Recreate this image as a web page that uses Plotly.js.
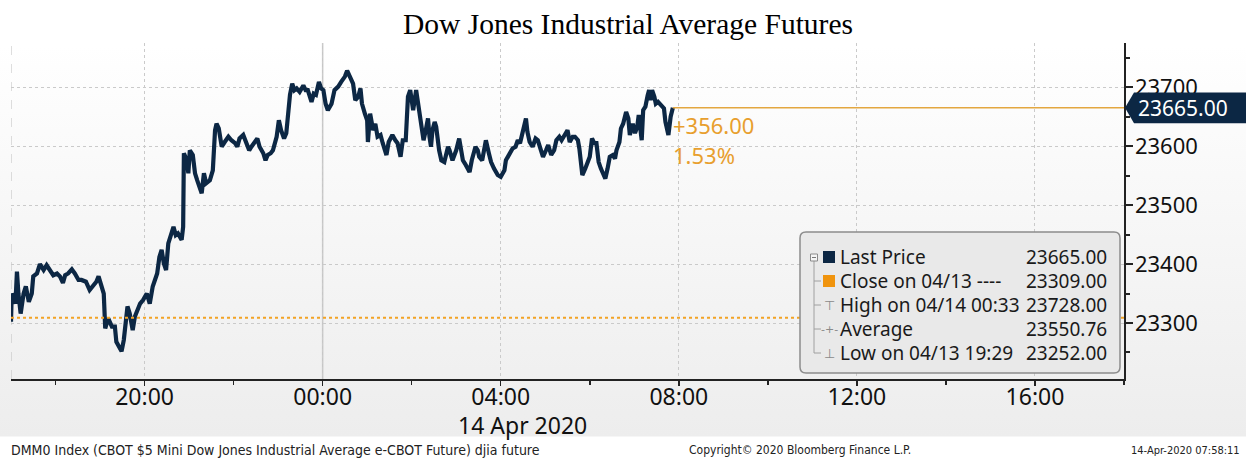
<!DOCTYPE html>
<html>
<head>
<meta charset="utf-8">
<script src="https://cdn.plot.ly/plotly-3.0.1.min.js"></script>
<style>
  html, body { margin:0; padding:0; }
  #chart { width:1246px; height:462px;
    background: linear-gradient(to bottom, #ffffff 0px, #ffffff 45px, #ededed 436px, #ffffff 437px, #ffffff 462px); }
</style>
</head>
<body>
<div id="chart"></div>
<script>
// ---- data ----
const times = [
 "2020-04-13 17:00","2020-04-13 17:01","2020-04-13 17:06","2020-04-13 17:08","2020-04-13 17:10","2020-04-13 17:13","2020-04-13 17:17","2020-04-13 17:20","2020-04-13 17:24","2020-04-13 17:28",
 "2020-04-13 17:30","2020-04-13 17:35","2020-04-13 17:39","2020-04-13 17:44","2020-04-13 17:48","2020-04-13 17:53","2020-04-13 17:57","2020-04-13 18:02","2020-04-13 18:06","2020-04-13 18:10",
 "2020-04-13 18:13","2020-04-13 18:17","2020-04-13 18:22","2020-04-13 18:26","2020-04-13 18:31","2020-04-13 18:35","2020-04-13 18:41","2020-04-13 18:46","2020-04-13 18:50","2020-04-13 18:55",
 "2020-04-13 18:58","2020-04-13 19:02","2020-04-13 19:05","2020-04-13 19:07","2020-04-13 19:11","2020-04-13 19:16","2020-04-13 19:20","2020-04-13 19:22","2020-04-13 19:29","2020-04-13 19:32",
 "2020-04-13 19:34","2020-04-13 19:37","2020-04-13 19:40","2020-04-13 19:44","2020-04-13 19:47","2020-04-13 19:50","2020-04-13 19:54","2020-04-13 19:58","2020-04-13 20:03","2020-04-13 20:07",
 "2020-04-13 20:11","2020-04-13 20:14","2020-04-13 20:17","2020-04-13 20:20","2020-04-13 20:23","2020-04-13 20:26","2020-04-13 20:29","2020-04-13 20:32","2020-04-13 20:36","2020-04-13 20:39",
 "2020-04-13 20:42","2020-04-13 20:45","2020-04-13 20:50","2020-04-13 20:52","2020-04-13 20:53","2020-04-13 20:57","2020-04-13 20:59","2020-04-13 21:01","2020-04-13 21:05","2020-04-13 21:08",
 "2020-04-13 21:11","2020-04-13 21:14","2020-04-13 21:17","2020-04-13 21:20","2020-04-13 21:23","2020-04-13 21:28","2020-04-13 21:32","2020-04-13 21:35","2020-04-13 21:37","2020-04-13 21:40",
 "2020-04-13 21:44","2020-04-13 21:48","2020-04-13 21:53","2020-04-13 21:57","2020-04-13 22:02","2020-04-13 22:05","2020-04-13 22:08","2020-04-13 22:13","2020-04-13 22:17","2020-04-13 22:21",
 "2020-04-13 22:24","2020-04-13 22:29","2020-04-13 22:32","2020-04-13 22:35","2020-04-13 22:40","2020-04-13 22:43","2020-04-13 22:46","2020-04-13 22:50","2020-04-13 22:53","2020-04-13 22:58",
 "2020-04-13 23:01","2020-04-13 23:04","2020-04-13 23:08","2020-04-13 23:11","2020-04-13 23:13","2020-04-13 23:16","2020-04-13 23:19","2020-04-13 23:22","2020-04-13 23:25","2020-04-13 23:29",
 "2020-04-13 23:34","2020-04-13 23:37","2020-04-13 23:40","2020-04-13 23:45","2020-04-13 23:48","2020-04-13 23:51","2020-04-13 23:55","2020-04-13 23:58",
 "2020-04-14 00:01","2020-04-14 00:04","2020-04-14 00:07","2020-04-14 00:12","2020-04-14 00:16","2020-04-14 00:21","2020-04-14 00:25","2020-04-14 00:30","2020-04-14 00:33","2020-04-14 00:37",
 "2020-04-14 00:41","2020-04-14 00:44","2020-04-14 00:48","2020-04-14 00:51","2020-04-14 00:53","2020-04-14 00:57","2020-04-14 01:00","2020-04-14 01:01","2020-04-14 01:04","2020-04-14 01:08",
 "2020-04-14 01:11","2020-04-14 01:14","2020-04-14 01:18","2020-04-14 01:21","2020-04-14 01:26","2020-04-14 01:29","2020-04-14 01:34","2020-04-14 01:38","2020-04-14 01:41","2020-04-14 01:45",
 "2020-04-14 01:48","2020-04-14 01:52","2020-04-14 01:55","2020-04-14 01:58","2020-04-14 02:02","2020-04-14 02:06","2020-04-14 02:10","2020-04-14 02:13","2020-04-14 02:16","2020-04-14 02:19",
 "2020-04-14 02:22","2020-04-14 02:24","2020-04-14 02:26","2020-04-14 02:28","2020-04-14 02:31","2020-04-14 02:33","2020-04-14 02:35","2020-04-14 02:37","2020-04-14 02:40","2020-04-14 02:44",
 "2020-04-14 02:49","2020-04-14 02:51","2020-04-14 02:55","2020-04-14 03:00","2020-04-14 03:04","2020-04-14 03:07","2020-04-14 03:09","2020-04-14 03:12","2020-04-14 03:18","2020-04-14 03:21",
 "2020-04-14 03:26","2020-04-14 03:29","2020-04-14 03:31","2020-04-14 03:35","2020-04-14 03:40","2020-04-14 03:44","2020-04-14 03:47","2020-04-14 03:51","2020-04-14 03:56","2020-04-14 04:00",
 "2020-04-14 04:05","2020-04-14 04:07","2020-04-14 04:12","2020-04-14 04:16","2020-04-14 04:20","2020-04-14 04:23","2020-04-14 04:26","2020-04-14 04:29","2020-04-14 04:32","2020-04-14 04:34",
 "2020-04-14 04:36","2020-04-14 04:39","2020-04-14 04:43","2020-04-14 04:47","2020-04-14 04:50","2020-04-14 04:54","2020-04-14 04:57","2020-04-14 05:01","2020-04-14 05:04","2020-04-14 05:08",
 "2020-04-14 05:12","2020-04-14 05:15","2020-04-14 05:19","2020-04-14 05:22","2020-04-14 05:26","2020-04-14 05:30","2020-04-14 05:33","2020-04-14 05:37","2020-04-14 05:40","2020-04-14 05:44",
 "2020-04-14 05:46","2020-04-14 05:48","2020-04-14 05:50","2020-04-14 05:54","2020-04-14 05:57","2020-04-14 06:00","2020-04-14 06:03","2020-04-14 06:06","2020-04-14 06:09","2020-04-14 06:12",
 "2020-04-14 06:15","2020-04-14 06:17","2020-04-14 06:21","2020-04-14 06:24","2020-04-14 06:27","2020-04-14 06:31","2020-04-14 06:34","2020-04-14 06:36","2020-04-14 06:40","2020-04-14 06:42",
 "2020-04-14 06:45","2020-04-14 06:49","2020-04-14 06:52","2020-04-14 06:54","2020-04-14 06:58","2020-04-14 07:01","2020-04-14 07:04","2020-04-14 07:06","2020-04-14 07:10","2020-04-14 07:12",
 "2020-04-14 07:15","2020-04-14 07:18","2020-04-14 07:20","2020-04-14 07:22","2020-04-14 07:24","2020-04-14 07:27","2020-04-14 07:29","2020-04-14 07:32","2020-04-14 07:36","2020-04-14 07:40",
 "2020-04-14 07:42","2020-04-14 07:46","2020-04-14 07:49","2020-04-14 07:52"
];
const prices = [
 23302,23350,23333,23387,23350,23316,23350,23362,23336,23350,
 23379,23384,23400,23390,23398,23390,23381,23384,23379,23368,
 23381,23384,23391,23384,23373,23373,23370,23356,23363,23370,
 23379,23359,23350,23291,23308,23294,23294,23268,23252,23271,
 23294,23328,23316,23288,23311,23322,23333,23339,23350,23333,
 23362,23373,23384,23412,23424,23401,23390,23435,23452,23463,
 23449,23452,23441,23463,23588,23576,23554,23593,23585,23554,
 23542,23531,23520,23554,23537,23542,23559,23627,23638,23630,
 23599,23607,23616,23610,23605,23599,23613,23619,23607,23593,
 23599,23610,23613,23599,23588,23576,23585,23588,23593,23616,
 23644,23627,23613,23622,23650,23687,23706,23695,23698,23692,
 23703,23695,23695,23675,23689,23687,23709,23698,
 23695,23672,23661,23672,23695,23701,23709,23718,23728,23715,
 23706,23678,23684,23698,23672,23655,23644,23607,23655,23627,
 23638,23616,23619,23605,23585,23607,23619,23610,23605,23582,
 23610,23610,23684,23695,23661,23695,23658,23633,23610,23627,
 23647,23616,23599,23627,23641,23633,23610,23593,23576,23573,
 23599,23593,23576,23593,23613,23593,23576,23570,23556,23576,
 23599,23593,23582,23576,23610,23588,23573,23562,23551,23548,
 23559,23576,23588,23596,23599,23610,23605,23624,23641,23647,
 23624,23607,23599,23613,23610,23596,23582,23593,23602,23585,
 23593,23610,23616,23610,23619,23627,23607,23616,23616,23610,
 23596,23576,23551,23562,23573,23582,23613,23605,23605,23573,
 23562,23556,23545,23562,23582,23585,23579,23593,23607,23630,
 23638,23658,23647,23619,23638,23622,23633,23653,23610,23661,
 23667,23686,23695,23678,23695,23684,23672,23675,23670,23664,
 23641,23619,23650,23665
];
const closePrev = 23309.00;
const lastPrice = 23665.00;
const netChange = "+356.00";
const pctChange = "1.53%";
const legendLabels = ["Last Price", "Close on 04/13 ----", "High on 04/14 00:33", "Average", "Low on 04/13 19:29"];
const legendValues = ["23665.00", "23309.00", "23728.00", "23550.76", "23252.00"];
const titleText = "Dow Jones Industrial Average Futures";
const dateLabel = "14 Apr 2020";
const footerLeft = "DMM0 Index (CBOT $5 Mini Dow Jones Industrial Average e-CBOT Future) djia future";
const footerMid = "Copyright\u00A9 2020 Bloomberg Finance L.P.";
const footerRight = "14-Apr-2020 07:58:11";

// ---- geometry helpers (plot area: x 11..1124, y 43..379 px) ----
const PL = 11, PR = 1124, PT = 43, PB = 379;
const px = v => (v - PL) / (PR - PL);
const py = v => (PB - v) / (PB - PT);

const NAVY = '#0c2744';
const xStart = '2020-04-13 17:00', xEnd = '2020-04-14 18:00';
const lastTime = times[times.length - 1];

const trace = {
  x: times, y: prices, type: 'scatter', mode: 'lines',
  line: { color: NAVY, width: 4.2, shape: 'linear' },
  hoverinfo: 'skip'
};

const shapes = [];
shapes.push({type:'line', xref:'x', yref:'paper', x0:xStart, x1:xStart, y0:0, y1:1, layer:'below',
  line:{color:'#bdbdbd', width:1, dash:'dash'}});
shapes.push({type:'line', xref:'x', yref:'paper', x0:'2020-04-14 00:00', x1:'2020-04-14 00:00', y0:0, y1:1, layer:'below',
  line:{color:'#c6c6c6', width:1.5}});
shapes.push({type:'line', xref:'paper', yref:'y', x0:0, x1:1, y0:closePrev, y1:closePrev,
  line:{color:'#f2a325', width:2, dash:'dot'}});
shapes.push({type:'line', xref:'x', yref:'y', x0:lastTime, x1:xEnd, y0:lastPrice, y1:lastPrice,
  line:{color:'#e3a740', width:1.5}});
shapes.push({type:'path', xref:'paper', yref:'y',
  path:`M ${px(1125)},${lastPrice} L ${px(1134)},${lastPrice+26} L ${px(1250)},${lastPrice+26} L ${px(1250)},${lastPrice-26} L ${px(1134)},${lastPrice-26} Z`,
  fillcolor:NAVY, line:{width:0}});

(function(){
  const x0 = px(800), x1 = px(1120), y0 = py(373), y1 = py(232);
  const rx = 6/(PR-PL), ry = 6/(PB-PT);
  shapes.push({type:'path', xref:'paper', yref:'paper',
    path:`M ${x0+rx},${y0} L ${x1-rx},${y0} Q ${x1},${y0} ${x1},${y0+ry} L ${x1},${y1-ry} Q ${x1},${y1} ${x1-rx},${y1} L ${x0+rx},${y1} Q ${x0},${y1} ${x0},${y1-ry} L ${x0},${y0+ry} Q ${x0},${y0} ${x0+rx},${y0} Z`,
    fillcolor:'#e9e9e9', line:{color:'#8c8c8c', width:1.5}});
})();
const rowsY = [257, 281, 305, 329, 353];
shapes.push({type:'line', xref:'paper', yref:'paper', x0:px(814), x1:px(814), y0:py(261), y1:py(353),
  line:{color:'#a0a0a0', width:1}});
for (let i = 1; i < 5; i++) {
  shapes.push({type:'line', xref:'paper', yref:'paper', x0:px(814), x1:px(821), y0:py(rowsY[i]), y1:py(rowsY[i]),
    line:{color:'#a0a0a0', width:1}});
}
shapes.push({type:'rect', xref:'paper', yref:'paper', x0:px(810.5), x1:px(817.5), y0:py(261), y1:py(254),
  fillcolor:'#f4f4f4', line:{color:'#8a8a8a', width:1}});
shapes.push({type:'line', xref:'paper', yref:'paper', x0:px(812), x1:px(816), y0:py(257.5), y1:py(257.5),
  line:{color:'#777', width:1}});
shapes.push({type:'rect', xref:'paper', yref:'paper', x0:px(823), x1:px(835), y0:py(263), y1:py(251),
  fillcolor:NAVY, line:{width:0}});
shapes.push({type:'rect', xref:'paper', yref:'paper', x0:px(823), x1:px(835), y0:py(287), y1:py(275),
  fillcolor:'#f0940e', line:{width:0}});

const F = 'Noto Sans, DejaVu Sans, sans-serif';
const annotations = [];
for (let i = 0; i < 5; i++) {
  annotations.push({xref:'paper', yref:'paper', x:px(838), y:py(rowsY[i]), xanchor:'left', yanchor:'middle',
    text:legendLabels[i], showarrow:false, font:{family:F, size:19, color:'#1a1a1a'}});
  annotations.push({xref:'paper', yref:'paper', x:px(1109), y:py(rowsY[i]), xanchor:'right', yanchor:'middle',
    text:legendValues[i], showarrow:false, font:{family:F, size:19, color:'#1a1a1a'}});
}
annotations.push({xref:'paper', yref:'paper', x:px(829), y:py(305), xanchor:'center', yanchor:'middle',
  text:'\u22A4', showarrow:false, font:{family:'DejaVu Sans', size:13, color:'#8a8a8a'}});
annotations.push({xref:'paper', yref:'paper', x:px(829), y:py(329), xanchor:'center', yanchor:'middle',
  text:'-+-', showarrow:false, font:{family:'DejaVu Sans', size:11, color:'#8a8a8a'}});
annotations.push({xref:'paper', yref:'paper', x:px(829), y:py(353), xanchor:'center', yanchor:'middle',
  text:'\u22A5', showarrow:false, font:{family:'DejaVu Sans', size:13, color:'#8a8a8a'}});

annotations.push({xref:'x', yref:'paper', x:lastTime, y:py(125), xanchor:'left', yanchor:'middle', xshift:-2,
  text:netChange, showarrow:false, font:{family:F, size:22, color:'#e89f2e'}});
annotations.push({xref:'x', yref:'paper', x:lastTime, y:py(155), xanchor:'left', yanchor:'middle', xshift:-2,
  text:pctChange, showarrow:false, font:{family:F, size:22, color:'#e89f2e'}});
annotations.push({xref:'paper', yref:'y', x:px(1136), y:lastPrice, xanchor:'left', yanchor:'middle',
  text:lastPrice.toFixed(2), showarrow:false, font:{family:F, size:21, color:'#ffffff'}});
annotations.push({xref:'paper', yref:'paper', x:px(522), y:py(425), xanchor:'center', yanchor:'middle',
  text:dateLabel, showarrow:false, font:{family:F, size:23, color:'#111'}});
const FF = 'DejaVu Sans Condensed, DejaVu Sans, sans-serif';
annotations.push({xref:'paper', yref:'paper', x:px(9), y:py(450), xanchor:'left', yanchor:'middle',
  text:footerLeft, showarrow:false, font:{family:FF, size:14, color:'#222'}});
annotations.push({xref:'paper', yref:'paper', x:px(800), y:py(450), xanchor:'center', yanchor:'middle',
  text:footerMid, showarrow:false, font:{family:FF, size:12, color:'#222'}});
annotations.push({xref:'paper', yref:'paper', x:px(1242), y:py(450), xanchor:'right', yanchor:'middle',
  text:footerRight, showarrow:false, font:{family:FF, size:11, color:'#222'}});

const layout = {
  width:1246, height:462,
  margin:{l:PL, r:1246-PR, t:PT, b:462-PB, pad:0},
  paper_bgcolor:'rgba(0,0,0,0)', plot_bgcolor:'rgba(0,0,0,0)',
  showlegend:false, hovermode:false,
  font:{family:F, color:'#111'},
  title:{text:titleText, font:{family:'Liberation Serif, Times New Roman, serif', size:29.5, color:'#000'},
    xref:'container', x:0.504, xanchor:'center', yref:'container', y:1-24/462, yanchor:'middle'},
  xaxis:{type:'date', range:[xStart, xEnd], tick0:'2020-04-13 00:00', dtick:4*3600000, tickformat:'%H:%M',
    ticks:'outside', ticklen:5, tickwidth:1.5, tickcolor:'#222', ticklabelstandoff:-8,
    showline:true, linecolor:'#222', linewidth:1.5,
    showgrid:true, gridcolor:'#cacaca', griddash:'dot', gridwidth:1,
    tickfont:{family:F, size:23, color:'#111'},
    minor:{dtick:2*3600000, tick0:'2020-04-13 00:00', ticks:'outside', ticklen:4, tickcolor:'#222', showgrid:false},
    zeroline:false, fixedrange:true},
  yaxis:{side:'right', range:[23205, 23775], tick0:0, dtick:100, tickformat:'d',
    ticks:'outside', ticklen:7, tickwidth:2, tickcolor:'#222', ticklabelstandoff:-2,
    showline:true, linecolor:'#222', linewidth:1.5,
    showgrid:true, gridcolor:'#cacaca', griddash:'dot', gridwidth:1,
    tickfont:{family:F, size:22, color:'#111'},
    minor:{dtick:50, tick0:0, ticks:'outside', ticklen:4, tickcolor:'#222', showgrid:false},
    zeroline:false, fixedrange:true},
  shapes: shapes,
  annotations: annotations
};

Plotly.newPlot('chart', [trace], layout, {staticPlot:true, displayModeBar:false});
</script>
</body>
</html>
